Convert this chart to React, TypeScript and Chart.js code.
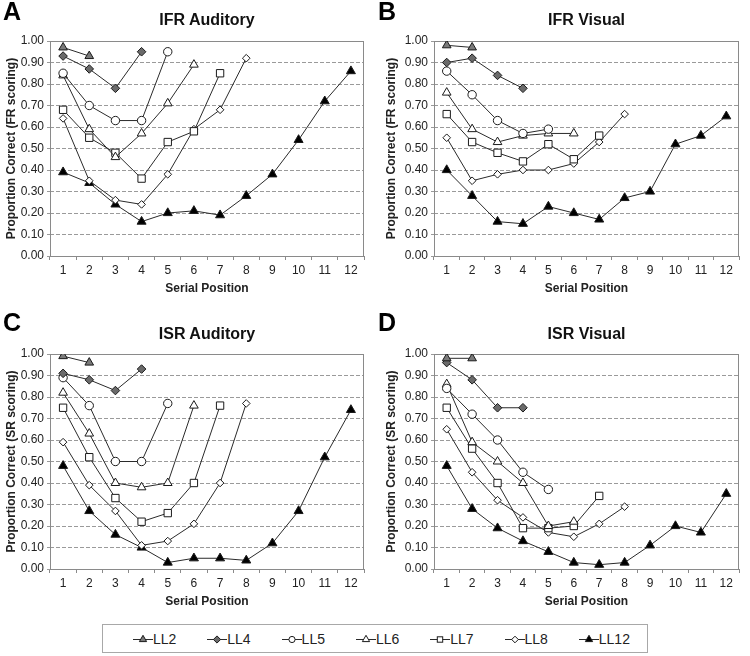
import React, { useEffect, useRef } from 'react';
import { Chart, registerables } from 'chart.js';

Chart.register(...registerables);
Chart.defaults.font.family = '"Liberation Sans", Arial, sans-serif';

// ---------- data ----------
const positions = ['1', '2', '3', '4', '5', '6', '7', '8', '9', '10', '11', '12'];
const seriesNames = ['LL2', 'LL4', 'LL5', 'LL6', 'LL7', 'LL8', 'LL12'];
const yTickValues = [0, 0.1, 0.2, 0.3, 0.4, 0.5, 0.6, 0.7, 0.8, 0.9, 1.0];

// A: IFR Auditory
const ifrAudLL2 = [0.97, 0.93];
const ifrAudLL4 = [0.93, 0.87, 0.78, 0.95];
const ifrAudLL5 = [0.85, 0.70, 0.63, 0.63, 0.95];
const ifrAudLL6 = [0.84, 0.59, 0.46, 0.57, 0.71, 0.89];
const ifrAudLL7 = [0.68, 0.55, 0.48, 0.36, 0.53, 0.58, 0.85];
const ifrAudLL8 = [0.64, 0.35, 0.26, 0.24, 0.38, 0.59, 0.68, 0.92];
const ifrAudLL12 = [0.39, 0.34, 0.24, 0.16, 0.20, 0.21, 0.19, 0.28, 0.38, 0.54, 0.72, 0.86];

// B: IFR Visual
const ifrVisLL2 = [0.98, 0.97];
const ifrVisLL4 = [0.90, 0.92, 0.84, 0.78];
const ifrVisLL5 = [0.86, 0.75, 0.63, 0.57, 0.59];
const ifrVisLL6 = [0.76, 0.59, 0.53, 0.56, 0.57, 0.57];
const ifrVisLL7 = [0.66, 0.53, 0.48, 0.44, 0.52, 0.45, 0.56];
const ifrVisLL8 = [0.55, 0.35, 0.38, 0.40, 0.40, 0.43, 0.53, 0.66];
const ifrVisLL12 = [0.40, 0.28, 0.16, 0.15, 0.23, 0.20, 0.17, 0.27, 0.30, 0.52, 0.56, 0.65];

// C: ISR Auditory
const isrAudLL2 = [0.99, 0.96];
const isrAudLL4 = [0.91, 0.88, 0.83, 0.93];
const isrAudLL5 = [0.89, 0.76, 0.50, 0.50, 0.77];
const isrAudLL6 = [0.82, 0.63, 0.40, 0.38, 0.40, 0.76];
const isrAudLL7 = [0.75, 0.52, 0.33, 0.22, 0.26, 0.40, 0.76];
const isrAudLL8 = [0.59, 0.39, 0.27, 0.11, 0.13, 0.21, 0.40, 0.77];
const isrAudLL12 = [0.48, 0.27, 0.16, 0.10, 0.03, 0.05, 0.05, 0.04, 0.12, 0.27, 0.52, 0.74];

// D: ISR Visual
const isrVisLL2 = [0.98, 0.98];
const isrVisLL4 = [0.96, 0.88, 0.75, 0.75];
const isrVisLL5 = [0.84, 0.72, 0.60, 0.45, 0.37];
const isrVisLL6 = [0.86, 0.59, 0.50, 0.40, 0.20, 0.22];
const isrVisLL7 = [0.75, 0.56, 0.40, 0.19, 0.19, 0.20, 0.34];
const isrVisLL8 = [0.65, 0.45, 0.32, 0.24, 0.17, 0.15, 0.21, 0.29];
const isrVisLL12 = [0.48, 0.28, 0.19, 0.13, 0.08, 0.03, 0.02, 0.03, 0.11, 0.20, 0.17, 0.35];

// ---------- styles ----------
type MarkerStyle = { shape: string; fill: string; radius: number };
const markerStyles: MarkerStyle[] = [
  { shape: 'triangle', fill: '#7a7a7a', radius: 5 },
  { shape: 'rectRot', fill: '#6a6a6a', radius: 4.3 },
  { shape: 'circle', fill: '#ffffff', radius: 4.2 },
  { shape: 'triangle', fill: '#ffffff', radius: 5 },
  { shape: 'rect', fill: '#ffffff', radius: 5.2 },
  { shape: 'rectRot', fill: '#ffffff', radius: 3.8 },
  { shape: 'triangle', fill: '#000000', radius: 5.2 },
];

const FONT = '"Liberation Sans", Arial, sans-serif';

const framePlugin = {
  id: 'frame',
  beforeDatasetsDraw(chart: any) {
    const { ctx, chartArea: a } = chart;
    ctx.save();
    ctx.strokeStyle = '#8a8a8a';
    ctx.lineWidth = 1;
    ctx.setLineDash([]);
    ctx.strokeRect(Math.round(a.left) + 0.5, Math.round(a.top) + 0.5, Math.round(a.right - a.left) - 1, Math.round(a.bottom - a.top));
    ctx.restore();
  },
};

type PanelProps = {
  left: number; top: number; width: number; height: number;
  padTop: number; padLeft: number; yWidth: number;
  yTitle: string; series: number[][];
};

function Panel({ left, top, width, height, padTop, padLeft, yWidth, yTitle, series }: PanelProps) {
  const ref = useRef<HTMLCanvasElement>(null);
  useEffect(() => {
    const chart = new Chart(ref.current as HTMLCanvasElement, {
      type: 'line',
      data: {
        labels: positions,
        datasets: seriesNames.map((name, i) => ({
          label: name,
          data: series[i],
          borderColor: '#2a2a2a',
          borderWidth: 1,
          pointStyle: markerStyles[i].shape as any,
          pointRadius: markerStyles[i].radius,
          pointBackgroundColor: markerStyles[i].fill,
          pointBorderColor: '#1a1a1a',
          pointBorderWidth: 1,
          fill: false,
          tension: 0,
        })),
      },
      options: {
        responsive: false,
        animation: false,
        layout: { padding: { top: padTop, left: padLeft, right: 11, bottom: 0 } },
        plugins: { legend: { display: false }, tooltip: { enabled: false }, title: { display: false } },
        scales: {
          x: {
            type: 'category',
            offset: true,
            grid: { offset: true, drawOnChartArea: false, drawTicks: true, tickLength: 4, color: '#8a8a8a' },
            border: { display: false },
            ticks: { color: '#222', font: { size: 12, family: FONT }, padding: 3, autoSkip: false, maxRotation: 0 },
            title: { display: true, text: 'Serial Position', color: '#222', font: { size: 12, weight: 'bold', family: FONT }, padding: { top: 0, bottom: 4 } },
            afterFit: (s: any) => { s.height = 44; },
          },
          y: {
            min: 0,
            max: 1,
            afterBuildTicks: (s: any) => { s.ticks = yTickValues.map((v) => ({ value: v })); },
            ticks: { color: '#222', font: { size: 12, family: FONT }, padding: 3, callback: (v: any) => Number(v).toFixed(2) },
            grid: { color: '#9a9a9a', lineWidth: 1, drawTicks: true, tickLength: 3 },
            border: { display: false, dash: [4, 2] },
            title: { display: true, text: yTitle, color: '#222', font: { size: 12, weight: 'bold', family: FONT }, padding: { top: 4, bottom: 0 } },
            afterFit: (s: any) => { s.width = yWidth; },
          },
        },
      } as any,
      plugins: [framePlugin],
    });
    return () => chart.destroy();
  }, []);
  return (
    <canvas
      ref={ref}
      width={width}
      height={height}
      style={{ position: 'absolute', left, top, width, height }}
    />
  );
}

function LegendIcon({ style }: { style: MarkerStyle }) {
  const cx = 10, cy = 6.5, r = 3.6;
  let shape: React.ReactNode = null;
  const common = { fill: style.fill, stroke: '#1a1a1a', strokeWidth: 1 };
  if (style.shape === 'triangle') {
    const rr = r + 0.6;
    const pts = [
      [cx, cy - rr],
      [cx - rr * 0.866, cy + rr * 0.5],
      [cx + rr * 0.866, cy + rr * 0.5],
    ].map((p) => p.join(',')).join(' ');
    shape = <polygon points={pts} {...common} />;
  } else if (style.shape === 'rectRot') {
    const rr = style.fill === '#ffffff' ? r - 0.3 : r;
    const pts = [[cx, cy - rr], [cx + rr, cy], [cx, cy + rr], [cx - rr, cy]].map((p) => p.join(',')).join(' ');
    shape = <polygon points={pts} {...common} />;
  } else if (style.shape === 'circle') {
    shape = <circle cx={cx} cy={cy} r={r - 0.5} {...common} />;
  } else {
    const h = r * 0.75;
    shape = <rect x={cx - h} y={cy - h} width={2 * h} height={2 * h} {...common} />;
  }
  return (
    <svg width={20} height={13} style={{ display: 'block' }}>
      <line x1={0} y1={cy} x2={20} y2={cy} stroke="#2a2a2a" strokeWidth={1} />
      {shape}
    </svg>
  );
}

const txt = (extra: React.CSSProperties): React.CSSProperties => ({
  position: 'absolute',
  fontFamily: FONT,
  color: '#111',
  whiteSpace: 'nowrap',
  ...extra,
});

export default function App() {
  const panels = [
    { left: 0, top: 0, padTop: 41, padLeft: 0, yWidth: 50, yTitle: 'Proportion Correct (FR scoring)', title: 'IFR Auditory', letter: 'A', series: [ifrAudLL2, ifrAudLL4, ifrAudLL5, ifrAudLL6, ifrAudLL7, ifrAudLL8, ifrAudLL12] },
    { left: 375, top: 0, padTop: 41, padLeft: 5, yWidth: 54, yTitle: 'Proportion Correct (FR scoring)', title: 'IFR Visual', letter: 'B', series: [ifrVisLL2, ifrVisLL4, ifrVisLL5, ifrVisLL6, ifrVisLL7, ifrVisLL8, ifrVisLL12] },
    { left: 0, top: 300, padTop: 54, padLeft: 0, yWidth: 50, yTitle: 'Proportion Correct (SR scoring)', title: 'ISR Auditory', letter: 'C', series: [isrAudLL2, isrAudLL4, isrAudLL5, isrAudLL6, isrAudLL7, isrAudLL8, isrAudLL12] },
    { left: 375, top: 300, padTop: 54, padLeft: 5, yWidth: 54, yTitle: 'Proportion Correct (SR scoring)', title: 'ISR Visual', letter: 'D', series: [isrVisLL2, isrVisLL4, isrVisLL5, isrVisLL6, isrVisLL7, isrVisLL8, isrVisLL12] },
  ];
  const heights = [300, 300, 313, 313];

  return (
    <div style={{ position: 'absolute', left: 0, top: 0, width: 750, height: 656, background: '#fff', overflow: 'hidden' }}>
      {panels.map((p, i) => {
        const plotLeft = p.left + p.padLeft + p.yWidth;
        const plotRight = p.left + 375 - 11;
        return (
          <React.Fragment key={p.letter}>
            <Panel
              left={p.left}
              top={p.top}
              width={375}
              height={heights[i]}
              padTop={p.padTop}
              padLeft={p.padLeft}
              yWidth={p.yWidth}
              yTitle={p.yTitle}
              series={p.series}
            />
            <div style={txt({ left: p.left + 3, top: p.top + (i < 2 ? -1 : 10), fontSize: 25, lineHeight: '25px', fontWeight: 'bold', color: '#000' })}>
              {p.letter}
            </div>
            <div style={txt({ left: plotLeft, width: plotRight - plotLeft, textAlign: 'center', top: p.top + (i < 2 ? 11.5 : 25.5), fontSize: 16, lineHeight: '16px', fontWeight: 'bold' })}>
              {p.title}
            </div>
          </React.Fragment>
        );
      })}
      <div style={{ position: 'absolute', left: 102, top: 624, width: 544, height: 27, border: '1.5px solid #a8a8a8' }} />
      {seriesNames.map((name, i) => (
        <div key={name} style={txt({ left: 133 + i * 74.3, top: 631, display: 'flex', alignItems: 'center', fontSize: 14, lineHeight: '16px', color: '#222' })}>
          <LegendIcon style={markerStyles[i]} />
          <span>{name}</span>
        </div>
      ))}
    </div>
  );
}
